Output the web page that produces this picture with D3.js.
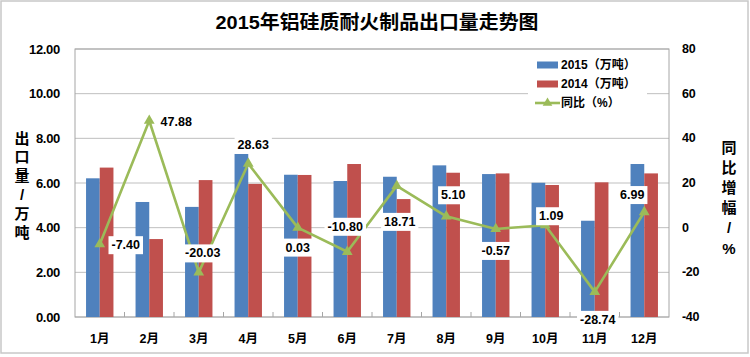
<!DOCTYPE html>
<html><head><meta charset="utf-8">
<script src="https://cdn.jsdelivr.net/npm/d3@7"></script>
<style>
html,body{margin:0;padding:0;background:#fff;}
svg{display:block;}
text{font-family:"Liberation Sans","Noto Sans CJK SC",Arial,sans-serif;font-weight:bold;fill:#000;}
</style></head>
<body>
<svg id="chart" width="750" height="357"></svg>
<script>
// ---- data ----
const months = ["1月","2月","3月","4月","5月","6月","7月","8月","9月","10月","11月","12月"];
const exports2015 = [6.21,5.15,4.93,7.30,6.37,6.09,6.28,6.79,6.40,6.01,4.31,6.85];
const exports2014 = [6.69,3.49,6.13,5.96,6.36,6.85,5.28,6.46,6.43,5.91,6.03,6.43];
const yoy = [-7.40,47.88,-20.03,28.63,0.03,-10.80,18.71,5.10,-0.57,1.09,-28.74,6.99];
const leftTicks = [0,2,4,6,8,10,12];
const rightTicks = [-40,-20,0,20,40,60,80];
const seriesNames = ["2015（万吨）","2014（万吨）","同比（%）"];
const title = "2015年铝硅质耐火制品出口量走势图";
const leftTitle = ["出","口","量","/","万","吨"];
const rightTitle = ["同","比","增","幅","/","%"];
// label placement offsets (layout)
const labelDx = [26,27,4,5,0,-2,3,7,0,6,3,-12];
const labelDy = [1,1,-19,-19,20,-25,36,-21,22,-9,28,-17];

const colors = {b:"#4F81BD", r:"#C0504D", g:"#9BBB59"};
const svg = d3.select("#chart");
const L = 75, R = 669, T = 49, B = 317;

// outer border
svg.append("rect").attr("x",1).attr("y",1).attr("width",747).attr("height",352)
  .attr("fill","#fff").attr("stroke","#c8c8c8").attr("stroke-width",1.5);

const x0 = d3.scaleBand().domain(months).range([L,R]).padding(0);
const x1 = d3.scaleBand().domain(["a","b"]).range([0,x0.bandwidth()]).paddingInner(0).paddingOuter(0.806);
const yL = d3.scaleLinear().domain([0,12]).range([B,T]);
const yR = d3.scaleLinear().domain([-40,80]).range([B,T]);

// gridlines
svg.append("g").selectAll("line").data(leftTicks).join("line")
  .attr("x1",L).attr("x2",R).attr("y1",d=>yL(d)).attr("y2",d=>yL(d))
  .attr("stroke","#bfbfbf").attr("stroke-width",1);
// plot border
svg.append("rect").attr("x",L).attr("y",T).attr("width",R-L).attr("height",B-T)
  .attr("fill","none").attr("stroke","#a6a6a6").attr("stroke-width",1);

// x ticks
svg.append("g").selectAll("line").data(d3.range(1,12)).join("line")
  .attr("x1",d=>L+d*x0.step()).attr("x2",d=>L+d*x0.step())
  .attr("y1",B-5).attr("y2",B).attr("stroke","#a6a6a6");

// bars
const g = svg.append("g");
g.selectAll(".b15").data(exports2015).join("rect")
  .attr("x",(d,i)=>x0(months[i])+x1("a")).attr("width",x1.bandwidth())
  .attr("y",d=>yL(d)).attr("height",d=>B-yL(d)).attr("fill",colors.b);
g.selectAll(".b14").data(exports2014).join("rect")
  .attr("x",(d,i)=>x0(months[i])+x1("b")).attr("width",x1.bandwidth())
  .attr("y",d=>yL(d)).attr("height",d=>B-yL(d)).attr("fill",colors.r);

// line
const cx = i => x0(months[i]) + x0.bandwidth()/2;
const line = d3.line().x((d,i)=>cx(i)).y(d=>yR(d));
svg.append("path").datum(yoy).attr("d",line).attr("fill","none")
  .attr("stroke",colors.g).attr("stroke-width",2.6).attr("stroke-linejoin","round");
const tri = d3.symbol().type(d3.symbolTriangle).size(50);
svg.append("g").selectAll("path").data(yoy).join("path")
  .attr("d",tri).attr("transform",(d,i)=>`translate(${cx(i)},${yR(d)})`)
  .attr("fill",colors.g);

// data labels
const lg = svg.append("g");
yoy.forEach((v,i)=>{
  const px = cx(i)+labelDx[i], py = yR(v)+labelDy[i];
  const grp = lg.append("g");
  const t = grp.append("text").attr("x",px).attr("y",py).attr("text-anchor","middle")
    .attr("dominant-baseline","central").attr("font-size",12.5).text(v.toFixed(2));
  const w = t.node().getComputedTextLength();
  grp.insert("rect","text").attr("x",px-w/2-3).attr("y",py-9).attr("width",w+6).attr("height",18).attr("fill","#fff");
});

// left axis labels
svg.append("g").selectAll("text").data(leftTicks).join("text")
  .attr("x",60).attr("y",d=>yL(d)).attr("text-anchor","end").attr("dominant-baseline","central")
  .attr("font-size",13).attr("letter-spacing",-0.3).text(d=>d.toFixed(2));
// right axis labels
svg.append("g").selectAll("text").data(rightTicks).join("text")
  .attr("x",682).attr("y",d=>yR(d)).attr("text-anchor","start").attr("dominant-baseline","central")
  .attr("font-size",12.5).attr("letter-spacing",-0.3).text(d=>d);
// x labels
svg.append("g").selectAll("text").data(months).join("text")
  .attr("x",(d,i)=>cx(i)).attr("y",339).attr("text-anchor","middle").attr("dominant-baseline","central")
  .attr("font-size",12.5).text(d=>d);

// title
svg.append("text").attr("x",377).attr("y",22).attr("text-anchor","middle").attr("dominant-baseline","central")
  .attr("font-size",19).attr("font-family","'Noto Sans CJK SC',sans-serif").attr("font-weight",900)
  .attr("textLength",323).attr("lengthAdjust","spacingAndGlyphs").text(title);

// axis titles
svg.append("g").selectAll("text").data(leftTitle).join("text")
  .attr("x",22).attr("y",(d,i)=>138+i*18.8).attr("text-anchor","middle").attr("dominant-baseline","central")
  .attr("font-size",15).attr("font-family","'Noto Sans CJK SC',sans-serif").attr("font-weight",900).text(d=>d);
svg.append("g").selectAll("text").data(rightTitle).join("text")
  .attr("x",729).attr("y",(d,i)=>147+i*20.2).attr("text-anchor","middle").attr("dominant-baseline","central")
  .attr("font-size",15).attr("font-family","'Noto Sans CJK SC',sans-serif").attr("font-weight",900).text(d=>d);

// legend
const leg = svg.append("g");
leg.append("rect").attr("x",528).attr("y",53).attr("width",119).attr("height",62).attr("fill","#fff");
const legY = [65,84,103];
leg.append("rect").attr("x",537).attr("y",legY[0]-3.5).attr("width",21).attr("height",7).attr("fill",colors.b);
leg.append("rect").attr("x",537).attr("y",legY[1]-3.5).attr("width",21).attr("height",7).attr("fill",colors.r);
leg.append("line").attr("x1",535).attr("x2",560).attr("y1",legY[2]).attr("y2",legY[2]).attr("stroke",colors.g).attr("stroke-width",2.6);
leg.append("path").attr("d",d3.symbol().type(d3.symbolTriangle).size(40)).attr("transform",`translate(547.5,${legY[2]})`).attr("fill",colors.g);
leg.selectAll(".lt").data(seriesNames).join("text")
  .attr("x",561).attr("y",(d,i)=>legY[i]).attr("dominant-baseline","central")
  .attr("font-size",12).text(d=>d);
</script>
</body></html>
